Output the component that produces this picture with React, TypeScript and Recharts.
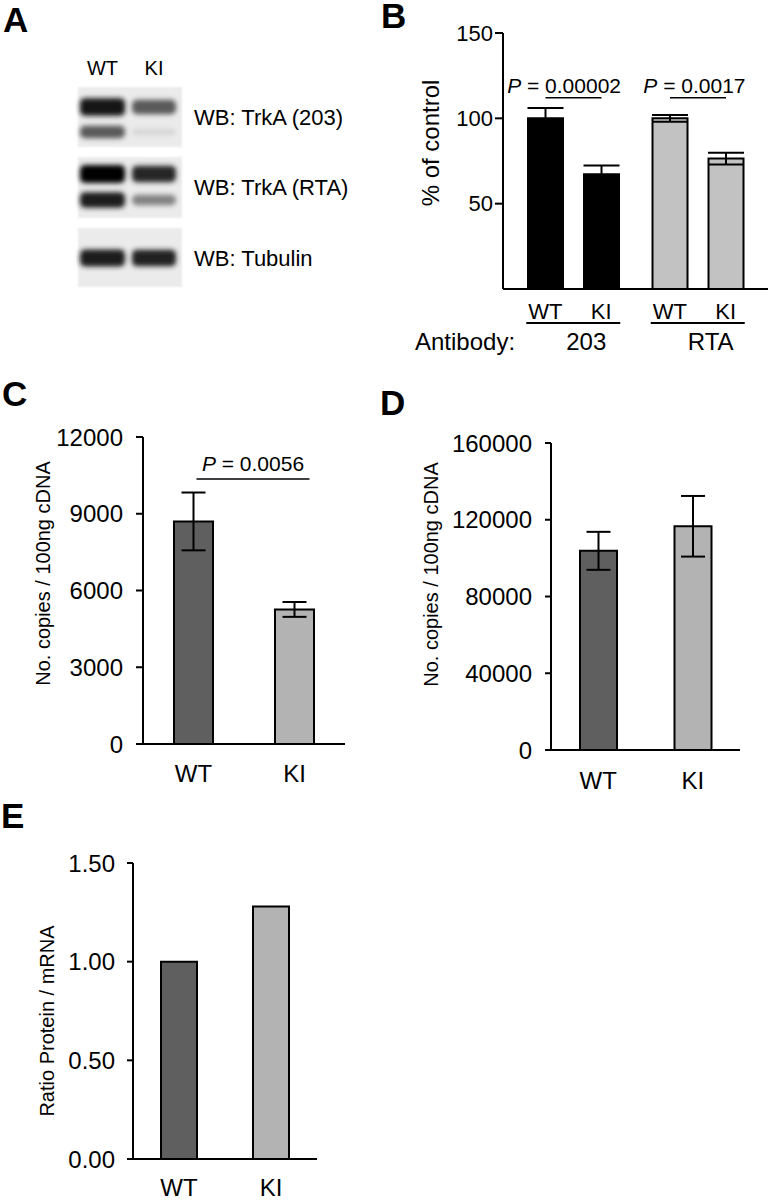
import React from 'react'
import { BarChart, Bar, XAxis, YAxis, Cell, ErrorBar, LabelList, ReferenceLine } from 'recharts'

// Panel A: western blot lanes and probes (band darkness 0..1, [WT, KI])
const blotLanes = ['WT', 'KI']
const blotProbes = ['WB: TrkA (203)', 'WB: TrkA (RTA)', 'WB: Tubulin']
const upperBand = [[0.92, 0.62], [0.98, 0.84], [0.88, 0.86]]
const lowerBand = [[0.62, 0.1], [0.88, 0.45], [0, 0]]

// Panel B: TrkA protein, % of control
const antibodies = ['203', 'RTA']
const genotypes = ['WT', 'KI']
const wtProtein = [100, 100]
const wtProteinErr = [6, 2]
const kiProtein = [67.3, 76.4]
const kiProteinErr = [5, 3.5]
const proteinP = ['0.00002', '0.0017']
const proteinTicks = [50, 100, 150]

// Panel C: TrkA mRNA
const mrnaCopies = [8700, 5260]
const mrnaCopiesErr = [1130, 290]
const mrnaTicks = [0, 3000, 6000, 9000, 12000]
const mrnaP = '0.0056'

// Panel D
const ctrlCopies = [103800, 116600]
const ctrlCopiesErr = [9900, 15800]
const ctrlTicks = [0, 40000, 80000, 120000, 160000]

// Panel E
const ratio = [1.0, 1.28]
const ratioTicks = [0, 0.5, 1.0, 1.5]

const panelLetters = ['A', 'B', 'C', 'D', 'E']

const FONT = '"Liberation Sans", Arial, Helvetica, sans-serif'
const DARK = '#5f5f5f'
const LIGHT = '#b3b3b3'
const antibodyFill = ['#000000', '#c2c2c2']
const axisLine = { stroke: '#000', strokeWidth: 2 }
const tickLine = { stroke: '#000', strokeWidth: 2 }

const B_BAR = 35
const B_GAP = 21
const SIG_B = 112
const SIG_C = 10360

const proteinData = antibodies.map((a, i) => ({
  antibody: a,
  wt: wtProtein[i],
  wtErr: wtProteinErr[i],
  ki: kiProtein[i],
  kiErr: kiProteinErr[i],
}))
const mrnaData = genotypes.map((g, i) => ({ genotype: g, value: mrnaCopies[i], err: mrnaCopiesErr[i] }))
const ctrlData = genotypes.map((g, i) => ({ genotype: g, value: ctrlCopies[i], err: ctrlCopiesErr[i] }))
const ratioData = genotypes.map((g, i) => ({ genotype: g, value: ratio[i] }))

const shade = (d: number) => {
  const v = Math.round(236 * (1 - d))
  return `rgb(${v},${v},${v})`
}

const yTitle = (text: string, dx: number, dy: number, size: number) => ({
  content: (p: any) => {
    const vb = p.viewBox || {}
    const cx = vb.x + vb.width + dx
    const cy = vb.y + vb.height / 2 + dy
    return (
      <text
        x={cx}
        y={cy}
        transform={`rotate(-90 ${cx} ${cy})`}
        textAnchor="middle"
        dominantBaseline="central"
        fontSize={size}
        fill="#000"
      >
        {text}
      </text>
    )
  },
})

function PText({ x, y, value, anchor }: { x: number; y: number; value: string; anchor: string }) {
  return (
    <text x={x} y={y} textAnchor={anchor} fontSize={21} fill="#000">
      <tspan fontStyle="italic">P</tspan> = {value}
    </text>
  )
}

// bracket from WT bar centre to KI bar centre, drawn from the WT bar geometry
const SigBracket = (props: any) => {
  const box = props.viewBox && props.viewBox.width != null ? props.viewBox : props
  const i = props.index ?? 0
  const bottom = box.y + box.height
  const perUnit = box.height / wtProtein[i]
  const ySig = bottom - SIG_B * perUnit
  const x1 = box.x + box.width / 2
  const x2 = x1 + B_BAR + B_GAP
  return (
    <g>
      <line x1={x1} x2={x2} y1={ySig} y2={ySig} stroke="#000" strokeWidth={1.5} />
      <PText x={x2 + B_BAR / 2 + 2} y={ySig - 5} value={proteinP[i]} anchor="end" />
    </g>
  )
}

const GroupTick = (props: any) => {
  const { x, y, payload } = props
  const half = (B_BAR + B_GAP) / 2
  return (
    <g>
      {genotypes.map((g, i) => (
        <text key={g} x={x + (i === 0 ? -half : half)} y={y + 14} dy="0.71em" textAnchor="middle" fontSize={22} fill="#000">
          {g}
        </text>
      ))}
      <line x1={x - 47} x2={x + 47} y1={y + 34} y2={y + 34} stroke="#000" strokeWidth={2} />
      <text x={x + 13} y={y + 44} dy="0.71em" textAnchor="middle" fontSize={24} fill="#000">
        {payload.value}
      </text>
    </g>
  )
}

function Blot() {
  const laneX = [80, 132]
  const laneW = [45, 44]
  const rowTop = [87, 157, 228]
  const rowH = [60, 61, 59]
  const upperY = [20, 17, 30]
  const lowerY = [45, 43, 0]
  return (
    <svg width={380} height={300} style={{ position: 'absolute', left: 0, top: 0 }}>
      <defs>
        <filter id="soft" x="-30%" y="-80%" width="160%" height="260%">
          <feGaussianBlur stdDeviation="2.8" />
        </filter>
        <filter id="edge" x="-10%" y="-10%" width="120%" height="120%">
          <feGaussianBlur stdDeviation="1" />
        </filter>
      </defs>
      {blotLanes.map((l, i) => (
        <text key={l} x={laneX[i] + laneW[i] / 2} y={75} textAnchor="middle" fontSize={20} fill="#000">
          {l}
        </text>
      ))}
      {blotProbes.map((p, r) => (
        <g key={p}>
          <rect x={78} y={rowTop[r]} width={104} height={rowH[r]} fill="#ebebeb" filter="url(#edge)" />
          {blotLanes.map((l, i) => {
            const up = upperBand[r][i]
            const lo = lowerBand[r][i]
            const hu = 9 + 9 * up
            const hl = 5 + 12 * lo
            return (
              <g key={l} filter="url(#soft)">
                <rect x={laneX[i]} y={rowTop[r] + upperY[r] - hu / 2} width={laneW[i]} height={hu} rx={5} fill={shade(up)} />
                {lo > 0 && (
                  <rect x={laneX[i]} y={rowTop[r] + lowerY[r] - hl / 2} width={laneW[i]} height={hl} rx={5} fill={shade(lo)} />
                )}
              </g>
            )
          })}
          <text x={194} y={rowTop[r] + 38} fontSize={22} fill="#000">
            {p}
          </text>
        </g>
      ))}
    </svg>
  )
}

function TopLabels() {
  const letterPos = [
    [3, 32],
    [381, 28],
    [2, 406],
    [380, 415],
    [1, 828],
  ]
  return (
    <svg width={772} height={1200} style={{ position: 'absolute', left: 0, top: 0, pointerEvents: 'none' }}>
      {panelLetters.map((l, i) => (
        <text key={l} x={letterPos[i][0]} y={letterPos[i][1]} fontSize={35} fontWeight="bold" fill="#000">
          {l}
        </text>
      ))}
      <text x={415} y={350} fontSize={24} fill="#000">
        Antibody:
      </text>
    </svg>
  )
}

export default function App() {
  return (
    <div style={{ position: 'absolute', left: 0, top: 0, width: 772, height: 1200, fontFamily: FONT, background: '#fff' }}>
      <Blot />

      {/* B */}
      <div style={{ position: 'absolute', left: 380, top: 0 }}>
        <BarChart width={392} height={360} data={proteinData} margin={{ top: 33, right: 4, bottom: 10, left: 63 }} barGap={B_GAP}>
          <XAxis
            dataKey="antibody"
            padding={{ left: 8, right: 8 }}
            axisLine={axisLine}
            tickLine={false}
            tickSize={0}
            tickMargin={0}
            height={61}
            interval={0}
            tick={GroupTick}
          />
          <YAxis
            domain={[0, 150]}
            ticks={proteinTicks}
            width={60}
            axisLine={axisLine}
            tickLine={tickLine}
            tickSize={8}
            tickMargin={2}
            tick={{ fontSize: 22, fill: '#000' }}
            label={yTitle('% of control', -73, -18, 24)}
          />
          <Bar dataKey="wt" barSize={B_BAR} stroke="#000" strokeWidth={2} isAnimationActive={false}>
            {proteinData.map((d, i) => (
              <Cell key={d.antibody} fill={antibodyFill[i]} />
            ))}
            <ErrorBar dataKey="wtErr" width={18} stroke="#000" strokeWidth={2} isAnimationActive={false} />
            <LabelList dataKey="wt" content={SigBracket} />
          </Bar>
          <Bar dataKey="ki" barSize={B_BAR} stroke="#000" strokeWidth={2} isAnimationActive={false}>
            {proteinData.map((d, i) => (
              <Cell key={d.antibody} fill={antibodyFill[i]} />
            ))}
            <ErrorBar dataKey="kiErr" width={18} stroke="#000" strokeWidth={2} isAnimationActive={false} />
          </Bar>
        </BarChart>
      </div>

      {/* C */}
      <div style={{ position: 'absolute', left: 0, top: 400 }}>
        <BarChart width={380} height={400} data={mrnaData} margin={{ top: 37, right: 35, bottom: 6, left: 43 }}>
          <XAxis
            dataKey="genotype"
            height={50}
            axisLine={axisLine}
            tickLine={false}
            tickSize={6}
            tickMargin={15}
            interval={0}
            tick={{ fontSize: 24, fill: '#000' }}
          />
          <YAxis
            domain={[0, 12000]}
            ticks={mrnaTicks}
            width={100}
            axisLine={axisLine}
            tickLine={tickLine}
            tickSize={7}
            tickMargin={13}
            interval={0}
            tick={{ fontSize: 24, fill: '#000' }}
            label={yTitle('No. copies / 100ng cDNA', -100, -17, 20)}
          />
          <ReferenceLine
            segment={[
              { x: 'WT', y: SIG_C },
              { x: 'KI', y: SIG_C },
            ]}
            stroke="none"
            label={(p: any) => {
              const vb = p.viewBox || {}
              const x1 = vb.x + 3
              const x2 = vb.x + vb.width + 15
              return (
                <g>
                  <line x1={x1} x2={x2} y1={vb.y} y2={vb.y} stroke="#000" strokeWidth={1.5} />
                  <PText x={(x1 + x2) / 2} y={vb.y - 8} value={mrnaP} anchor="middle" />
                </g>
              )
            }}
          />
          <Bar dataKey="value" barSize={39} stroke="#000" strokeWidth={2} isAnimationActive={false}>
            {mrnaData.map((d, i) => (
              <Cell key={d.genotype} fill={i === 0 ? DARK : LIGHT} />
            ))}
            <ErrorBar dataKey="err" width={12} stroke="#000" strokeWidth={2} isAnimationActive={false} />
          </Bar>
        </BarChart>
      </div>

      {/* D */}
      <div style={{ position: 'absolute', left: 380, top: 400 }}>
        <BarChart width={392} height={400} data={ctrlData} margin={{ top: 43, right: 32, bottom: 5, left: 60 }}>
          <XAxis
            dataKey="genotype"
            height={45}
            axisLine={axisLine}
            tickLine={false}
            tickSize={6}
            tickMargin={16}
            interval={0}
            tick={{ fontSize: 24, fill: '#000' }}
          />
          <YAxis
            domain={[0, 160000]}
            ticks={ctrlTicks}
            width={111}
            axisLine={axisLine}
            tickLine={tickLine}
            tickSize={6}
            tickMargin={13}
            interval={0}
            tick={{ fontSize: 24, fill: '#000' }}
            label={yTitle('No. copies / 100ng cDNA', -120, -22, 20)}
          />
          <Bar dataKey="value" barSize={37} stroke="#000" strokeWidth={2} isAnimationActive={false}>
            {ctrlData.map((d, i) => (
              <Cell key={d.genotype} fill={i === 0 ? DARK : LIGHT} />
            ))}
            <ErrorBar dataKey="err" width={12} stroke="#000" strokeWidth={2} isAnimationActive={false} />
          </Bar>
        </BarChart>
      </div>

      {/* E */}
      <div style={{ position: 'absolute', left: 0, top: 800 }}>
        <BarChart width={380} height={400} data={ratioData} margin={{ top: 63, right: 63, bottom: 3, left: 43 }}>
          <XAxis
            dataKey="genotype"
            height={38}
            axisLine={axisLine}
            tickLine={false}
            tickSize={6}
            tickMargin={14}
            interval={0}
            tick={{ fontSize: 24, fill: '#000' }}
          />
          <YAxis
            domain={[0, 1.5]}
            ticks={ratioTicks}
            width={90}
            axisLine={axisLine}
            tickLine={tickLine}
            tickSize={6}
            tickMargin={12}
            interval={0}
            tickFormatter={(v: number) => v.toFixed(2)}
            tick={{ fontSize: 24, fill: '#000' }}
            label={yTitle('Ratio Protein / mRNA', -86, 10, 20)}
          />
          <Bar dataKey="value" barSize={36} stroke="#000" strokeWidth={2} isAnimationActive={false}>
            {ratioData.map((d, i) => (
              <Cell key={d.genotype} fill={i === 0 ? DARK : LIGHT} />
            ))}
          </Bar>
        </BarChart>
      </div>

      <TopLabels />
    </div>
  )
}
